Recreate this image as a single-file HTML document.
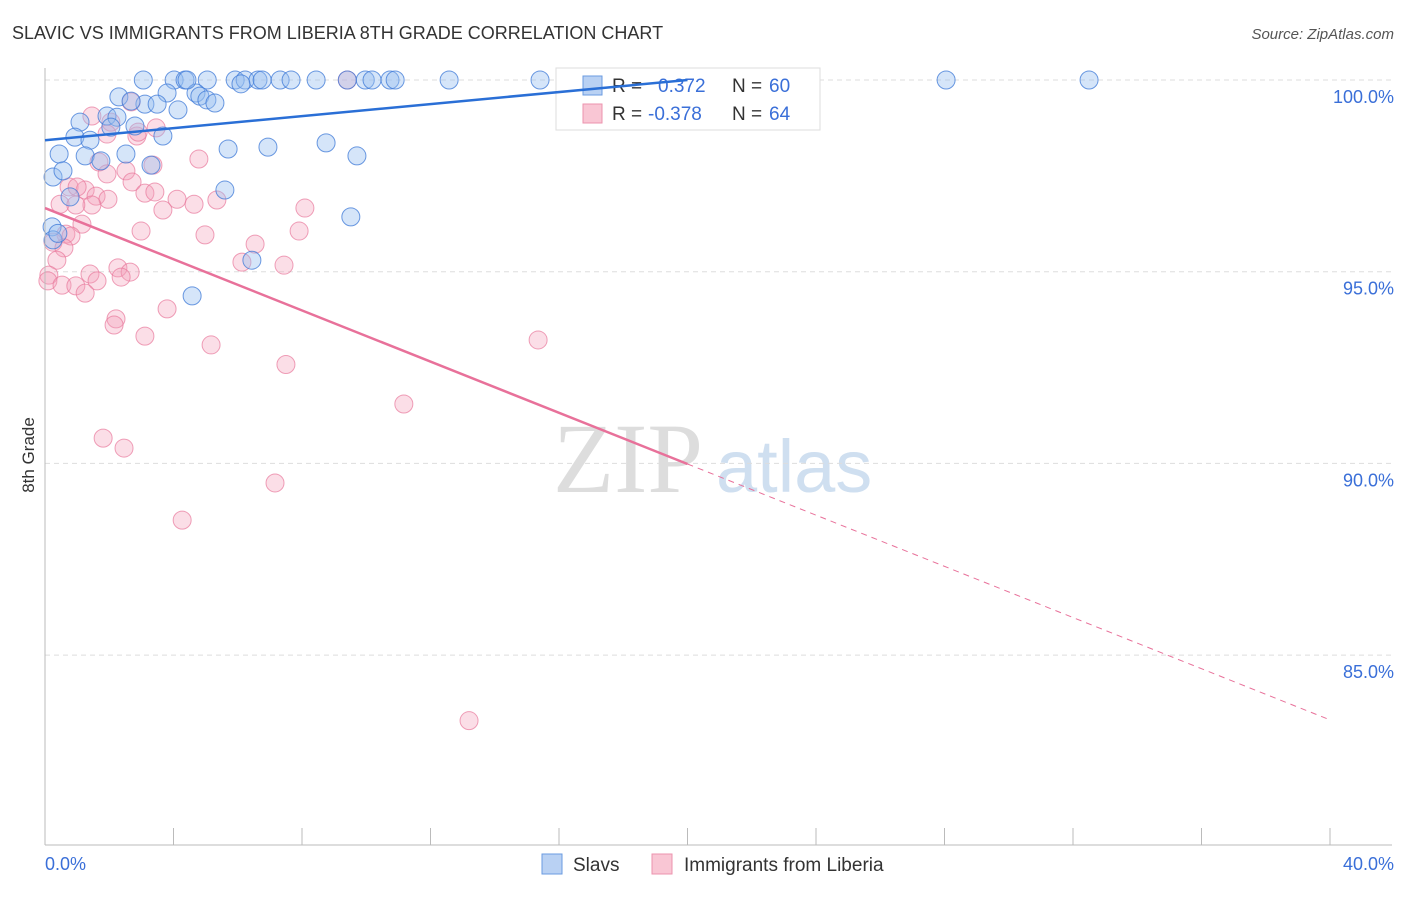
<!DOCTYPE html>
<html><head><meta charset="utf-8"><style>
body{margin:0;background:#fff;font-family:"Liberation Sans",sans-serif;}
</style></head><body>
<svg id="c" width="1406" height="892" xmlns="http://www.w3.org/2000/svg">
<text x="12" y="39" font-size="18" fill="#333">SLAVIC VS IMMIGRANTS FROM LIBERIA 8TH GRADE CORRELATION CHART</text>
<text x="1394" y="39" font-size="15" fill="#555" text-anchor="end" font-style="italic">Source: ZipAtlas.com</text>
<text x="553" y="492" font-size="100" fill="#ddd" font-family="Liberation Serif,serif">ZIP</text>
<text x="716" y="492" font-size="74" fill="#cfdff0">atlas</text>
<text transform="translate(34,455) rotate(-90)" font-size="17" fill="#333" text-anchor="middle">8th Grade</text>
<g id="grid"></g><g id="pts"></g>
<line x1="45" y1="68" x2="45" y2="845" stroke="#bbb"/>
<line x1="45" y1="845" x2="1392" y2="845" stroke="#bbb"/>
<text x="45" y="870" font-size="18" fill="#3a6fd8">0.0%</text>
<text x="1394" y="870" font-size="18" fill="#3a6fd8" text-anchor="end">40.0%</text>
<g>
<rect x="556" y="68" width="264" height="62" fill="#fff" stroke="#ddd"/>
<rect x="583" y="76" width="19" height="19" fill="#b9d1f3" stroke="#6a9be0"/>
<rect x="583" y="104" width="19" height="19" fill="#f9c6d4" stroke="#ec93ae"/>
<text x="612" y="92" font-size="19" fill="#333">R = </text><text x="658" y="92" font-size="19" fill="#3a6fd8">0.372</text>
<text x="732" y="92" font-size="19" fill="#333">N = </text><text x="769" y="92" font-size="19" fill="#3a6fd8">60</text>
<text x="612" y="120" font-size="19" fill="#333">R = </text><text x="648" y="120" font-size="19" fill="#3a6fd8">-0.378</text>
<text x="732" y="120" font-size="19" fill="#333">N = </text><text x="769" y="120" font-size="19" fill="#3a6fd8">64</text>
</g>
<g id="lines"></g>
<g>
<rect x="542" y="854" width="20" height="20" fill="#b9d1f3" stroke="#6a9be0"/>
<text x="573" y="871" font-size="19" fill="#333">Slavs</text>
<rect x="652" y="854" width="20" height="20" fill="#f9c6d4" stroke="#ec93ae"/>
<text x="684" y="871" font-size="19" fill="#333">Immigrants from Liberia</text>
</g>
</svg>
<script>
const yTicks=[100,95,90,85];
const slavX=[3.06,4.02,4.36,5.05,5.92,6.23,6.63,6.76,7.32,7.66,8.44,9.41,9.97,10.18,10.74,10.9,12.58,15.41,19.52,28.05,32.5,2.3,3.8,4.7,4.82,5.04,5.29,3.11,3.49,2.68,4.14,1.09,1.93,2.24,2.05,0.93,1.4,3.67,0.44,1.25,1.74,2.52,3.3,5.7,6.94,8.75,9.71,0.25,0.56,5.6,0.78,9.52,0.22,0.25,6.44,4.58,4.42,2.8,6.1,0.4];
const slavY=[100,100,100,100,100,100,100,100,100,100,100,100,100,100,100,100,100,100,100,100,100,99.56,99.66,99.66,99.58,99.48,99.4,99.37,99.37,99.45,99.22,98.9,99.06,99.03,98.77,98.51,98.43,98.54,98.07,98.02,97.89,98.07,97.78,98.2,98.25,98.36,98.02,97.47,97.63,97.13,96.95,96.43,96.17,95.83,95.3,94.37,100,98.8,99.9,96.0];
const libX=[9.41,1.46,2.05,2.68,3.46,2.86,2.9,1.93,1.68,2.52,1.93,2.71,3.36,4.79,0.75,1.25,1.0,1.59,1.96,3.11,3.42,4.11,5.35,0.47,1.46,0.96,3.67,4.64,8.09,1.15,0.65,0.81,2.99,4.98,7.91,0.25,0.59,6.54,0.37,6.13,7.44,2.27,2.65,1.4,0.12,0.09,1.62,0.53,0.96,2.37,1.25,3.8,2.21,2.15,3.11,5.17,15.35,7.5,11.17,1.81,2.46,7.16,4.27,13.2];
const libY=[100,99.06,98.9,99.43,98.75,98.54,98.64,98.59,97.86,97.63,97.55,97.34,97.78,97.94,97.21,97.13,97.21,96.97,96.89,97.05,97.08,96.89,96.87,96.76,96.74,96.74,96.61,96.76,96.66,96.24,95.98,95.93,96.06,95.96,96.06,95.77,95.62,95.72,95.3,95.25,95.17,95.1,94.99,94.94,94.91,94.76,94.76,94.65,94.63,94.86,94.44,94.03,93.77,93.61,93.32,93.09,93.22,92.58,91.55,90.66,90.4,89.49,88.52,83.29];
const slavTrend=[98.43,100.0];
const libTrend=[96.66,83.31];
const X0=45,X1=1330,Y100=80,PX=38.34;
const sx=v=>X0+(v/40)*(X1-X0);
const sy=v=>Y100+(100-v)*PX;
const NS="http://www.w3.org/2000/svg";
function mk(t,a,p){const e=document.createElementNS(NS,t);for(const k in a)e.setAttribute(k,a[k]);document.getElementById(p).appendChild(e);return e;}
yTicks.forEach(t=>{
 const l=mk('line',{x1:45,x2:1392,y1:sy(t),y2:sy(t),stroke:'#ddd','stroke-dasharray':'5,4'},'grid');
 
 
 const tx=mk('text',{x:1394,y:sy(t)+23,'font-size':18,fill:'#3a6fd8','text-anchor':'end'},'grid');
 tx.textContent=t.toFixed(1)+'%';
 
 
});
for(let i=1;i<=10;i++){
 const t=mk('line',{x1:45+i*128.5,x2:45+i*128.5,y1:828,y2:845,stroke:'#bbb'},'grid');
 
 
}
libX.forEach((x,i)=>{
 const c=mk('circle',{cx:sx(x),cy:sy(libY[i]),r:9,fill:'rgba(244,160,186,0.35)',stroke:'rgba(232,120,155,0.7)','stroke-width':1},'pts');
 
 
});
slavX.forEach((x,i)=>{
 const c=mk('circle',{cx:sx(x),cy:sy(slavY[i]),r:9,fill:'rgba(150,190,240,0.4)',stroke:'rgba(60,120,215,0.75)','stroke-width':1},'pts');
 
 
});
const bl=mk('line',{x1:sx(0),y1:sy(slavTrend[0]),x2:sx(20),y2:sy(slavTrend[1]),stroke:'#2a6fd6','stroke-width':2.5},'lines');


const ly=x=>libTrend[0]+(libTrend[1]-libTrend[0])*x/40;
const pl=mk('line',{x1:sx(0),y1:sy(ly(0)),x2:sx(20),y2:sy(ly(20)),stroke:'#e8719a','stroke-width':2.5},'lines');


const pd=mk('line',{x1:sx(20),y1:sy(ly(20)),x2:sx(40),y2:sy(ly(40)),stroke:'#e8719a','stroke-width':1,'stroke-dasharray':'6,5'},'lines');


</script>
</body></html>
